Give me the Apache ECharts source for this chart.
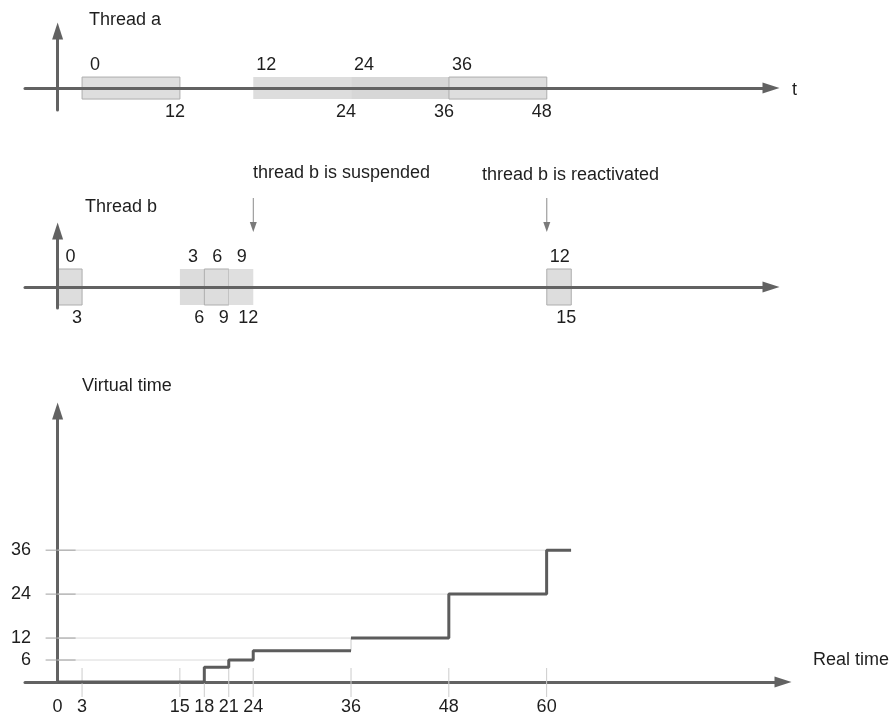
<!DOCTYPE html>
<html><head><meta charset="utf-8">
<script src="https://cdn.jsdelivr.net/npm/echarts@6/dist/echarts.min.js"></script>
<style>html,body{margin:0;padding:0;background:#fff}#c{width:893px;height:717px}</style>
</head><body><div id="c"></div>
<script>
// ---------- DATA ----------
// Thread a: execution slices on the real-time axis and their virtual-time labels
const threadARealStart = [3, 24, 36, 48];
const threadARealEnd   = [15, 36, 48, 60];
const threadAVirtStart = [0, 12, 24, 36];
const threadAVirtEnd   = [12, 24, 36, 48];
// Thread b
const threadBRealStart = [0, 15, 18, 21, 60];
const threadBRealEnd   = [3, 18, 21, 24, 63];
const threadBVirtStart = [0, 3, 6, 9, 12];
const threadBVirtEnd   = [3, 6, 9, 12, 15];
// Annotations on thread b (real time)
const annotationTimes = [24, 60];
const annotationTexts = ['thread b is suspended', 'thread b is reactivated'];
// Virtual time as a step function of real time
const stepRealTime    = [0, 18, 21, 24, 36, 48, 60];
const stepVirtualTime = [0, 4, 6, 8.5, 12, 24, 36];
const stepEndTime = 63;
// Tick labels
const realTimeTicks = [0, 3, 15, 18, 21, 24, 36, 48, 60];
const virtualTimeTicks = [6, 12, 24, 36];

// ---------- STYLE ----------
const FAMILY = '"Liberation Sans", Arial, sans-serif';
const FONT = '18px ' + FAMILY;
const TXT = '#1e1e1e';
const AXIS = '#626262';
const outlineA = [true, false, false, true];
const fillA = ['#dedede', '#dddddd', '#d7d7d7', '#dedede'];
const outlineB = [true, false, true, false, true];
const fillB = ['#dddddd', '#dcdcdc', '#dddddd', '#dfdfdf', '#dddddd'];
const thinRiseIndex = 4;

function boxRenderer(halfH, fills, outlines) {
  return function (params, api) {
    const s = api.coord([api.value(0), 0]);
    const e = api.coord([api.value(1), 0]);
    const i = api.value(4);
    return {
      type: 'group',
      children: [
        { type: 'rect', shape: { x: s[0], y: s[1] - halfH, width: e[0] - s[0], height: 2 * halfH },
          style: { fill: fills[i], stroke: outlines[i] ? '#adadad' : null, lineWidth: 1 } },
        { type: 'text', style: { text: String(api.value(2)), x: s[0] + 13, y: s[1] - halfH - 12,
          align: 'center', verticalAlign: 'middle', font: FONT, fill: TXT } },
        { type: 'text', style: { text: String(api.value(3)), x: e[0] - 5, y: s[1] + halfH + 13,
          align: 'center', verticalAlign: 'middle', font: FONT, fill: TXT } }
      ]
    };
  };
}

function axisLine() {
  return {
    show: true, onZero: true, symbol: ['none', 'triangle'], symbolSize: [11, 17],
    lineStyle: { color: AXIS, width: 3 }
  };
}

const topX = (g) => ({ gridIndex: g, type: 'value', min: -4, max: 87.5, axisLine: axisLine(),
  axisTick: { show: false }, axisLabel: { show: false }, splitLine: { show: false }, z: 5 });

const seg1 = stepRealTime.slice(0, thinRiseIndex).map((t, i) => [t, stepVirtualTime[i]])
  .concat([[stepRealTime[thinRiseIndex], stepVirtualTime[thinRiseIndex - 1]]]);
const seg2 = stepRealTime.slice(thinRiseIndex).map((t, i) => [t, stepVirtualTime[thinRiseIndex + i]])
  .concat([[stepEndTime, stepVirtualTime[stepVirtualTime.length - 1]]]);

const chart = echarts.init(document.getElementById('c'), null, { renderer: 'canvas' });
chart.setOption({
  animation: false,
  backgroundColor: '#ffffff',
  grid: [
    { left: 25, width: 746, top: 31, height: 79, outerBoundsMode: 'none', containLabel: false },
    { left: 25, width: 746, top: 231, height: 77, outerBoundsMode: 'none', containLabel: false },
    { left: 25, width: 758, top: 411, height: 271, outerBoundsMode: 'none', containLabel: false }
  ],
  xAxis: [
    topX(0), topX(1),
    { gridIndex: 2, type: 'value', min: -4, max: 89, axisLine: axisLine(),
      axisTick: { show: false }, splitLine: { show: false },
      axisLabel: { customValues: realTimeTicks, margin: 16, fontSize: 18,
        fontFamily: FAMILY, color: TXT } }
  ],
  yAxis: [
    { gridIndex: 0, type: 'value', min: -1, max: 2.6, axisLine: axisLine(), axisTick: { show: false },
      axisLabel: { show: false }, splitLine: { show: false }, z: 5 },
    { gridIndex: 1, type: 'value', min: -1, max: 2.667, axisLine: axisLine(), axisTick: { show: false },
      axisLabel: { show: false }, splitLine: { show: false }, z: 5 },
    { gridIndex: 2, type: 'value', min: 0, max: 74, axisLine: axisLine(), axisTick: { show: false },
      splitLine: { show: false },
      axisLabel: { customValues: virtualTimeTicks, margin: -6, fontSize: 18,
        fontFamily: FAMILY, color: TXT } }
  ],
  graphic: [
    { type: 'text', x: 89, y: 20, style: { text: 'Thread a', font: FONT, fill: TXT, verticalAlign: 'middle' } },
    { type: 'text', x: 792, y: 90, style: { text: 't', font: FONT, fill: TXT, verticalAlign: 'middle' } },
    { type: 'text', x: 85, y: 207, style: { text: 'Thread b', font: FONT, fill: TXT, verticalAlign: 'middle' } },
    { type: 'text', x: 253, y: 173, style: { text: annotationTexts[0], font: FONT, fill: TXT, verticalAlign: 'middle' } },
    { type: 'text', x: 482, y: 175, style: { text: annotationTexts[1], font: FONT, fill: TXT, verticalAlign: 'middle' } },
    { type: 'text', x: 82, y: 386, style: { text: 'Virtual time', font: FONT, fill: TXT, verticalAlign: 'middle' } },
    { type: 'text', x: 813, y: 660, style: { text: 'Real time', font: FONT, fill: TXT, verticalAlign: 'middle' } }
  ],
  series: [
    { type: 'custom', xAxisIndex: 0, yAxisIndex: 0, z: 1,
      renderItem: boxRenderer(11, fillA, outlineA),
      data: threadARealStart.map((s, i) => [s, threadARealEnd[i], threadAVirtStart[i], threadAVirtEnd[i], i]) },
    { type: 'custom', xAxisIndex: 1, yAxisIndex: 1, z: 1,
      renderItem: boxRenderer(18, fillB, outlineB),
      data: threadBRealStart.map((s, i) => [s, threadBRealEnd[i], threadBVirtStart[i], threadBVirtEnd[i], i]) },
    { type: 'custom', xAxisIndex: 1, yAxisIndex: 1, clip: false,
      renderItem: function (params, api) {
        const p = api.coord([api.value(0), 0]);
        return { type: 'group', children: [
          { type: 'line', shape: { x1: p[0], y1: p[1] - 89, x2: p[0], y2: p[1] - 63 }, style: { stroke: '#8a8a8a', lineWidth: 1 } },
          { type: 'polygon', shape: { points: [[p[0] - 3.5, p[1] - 65], [p[0] + 3.5, p[1] - 65], [p[0], p[1] - 55]] }, style: { fill: '#7a7a7a' } }
        ] };
      },
      data: annotationTimes.map(t => [t, 0]) },
    // light tick marks across the real-time axis
    { type: 'custom', xAxisIndex: 2, yAxisIndex: 2, clip: false, z: 1,
      renderItem: function (params, api) {
        const p = api.coord([api.value(0), 0]);
        return { type: 'line', shape: { x1: p[0], y1: p[1] - 14, x2: p[0], y2: p[1] + 15 }, style: { stroke: '#cccccc', lineWidth: 1 } };
      },
      data: realTimeTicks.filter(v => v !== 0).map(v => [v, 0]) },
    // guide lines from the virtual-time axis to where the step reaches each level
    { type: 'custom', xAxisIndex: 2, yAxisIndex: 2, clip: false, z: 1,
      renderItem: function (params, api) {
        const v = api.value(0);
        const a = api.coord([0, v]);
        const b = api.coord([api.value(1), v]);
        return { type: 'group', children: [
          { type: 'line', shape: { x1: a[0], y1: a[1], x2: b[0], y2: b[1] }, style: { stroke: '#dadada', lineWidth: 1 } },
          { type: 'line', shape: { x1: a[0] - 12, y1: a[1], x2: a[0] + 18, y2: a[1] }, style: { stroke: '#a0a0a0', lineWidth: 1 } }
        ] };
      },
      data: virtualTimeTicks.map(v => [v, stepRealTime[stepVirtualTime.indexOf(v)]]) },
    { type: 'custom', xAxisIndex: 2, yAxisIndex: 2, clip: false, z: 1,
      renderItem: function (params, api) {
        const a = api.coord([api.value(0), api.value(1)]);
        const b = api.coord([api.value(0), api.value(2)]);
        return { type: 'line', shape: { x1: a[0], y1: a[1], x2: b[0], y2: b[1] }, style: { stroke: '#cccccc', lineWidth: 1 } };
      },
      data: [[stepRealTime[thinRiseIndex], stepVirtualTime[thinRiseIndex - 1], stepVirtualTime[thinRiseIndex]]] },
    { type: 'line', xAxisIndex: 2, yAxisIndex: 2, step: 'end', showSymbol: false, z: 3,
      lineStyle: { color: '#5c5c5c', width: 3 }, data: seg1 },
    { type: 'line', xAxisIndex: 2, yAxisIndex: 2, step: 'end', showSymbol: false, z: 3,
      lineStyle: { color: '#5c5c5c', width: 3 }, data: seg2 }
  ]
});
</script></body></html>
